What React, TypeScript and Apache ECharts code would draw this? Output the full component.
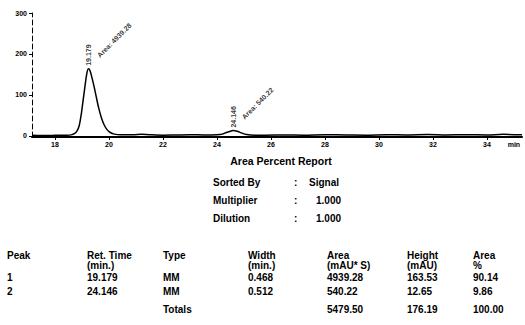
import React, { useEffect, useRef } from 'react';
import * as echarts from 'echarts';

// chromatogram trace: time (min) and signal (mAU)
const timeMin = [17.15, 17.5, 18.0, 18.4, 18.6, 18.72, 18.82, 18.9, 18.98, 19.05, 19.12, 19.18, 19.24, 19.3, 19.37, 19.45, 19.53, 19.62, 19.72, 19.82, 19.93, 20.05, 20.2, 20.45, 20.9, 21.2, 21.5, 22.0, 22.5, 23.0, 23.5, 24.0, 24.2, 24.35, 24.5, 24.6, 24.75, 24.9, 25.1, 25.4, 25.8, 26.5, 27.2, 28.0, 28.8, 29.5, 30.3, 31.0, 31.8, 32.5, 33.2, 34.0, 34.6, 35.3];
const signalMAU = [1.2, 0.6, 1.0, 1.5, 2.2, 5, 12, 25, 55, 90, 125, 152, 163.5, 159, 142, 120, 95, 68, 44, 27, 15, 8, 4, 2.5, 2.5, 3.5, 2.5, 1.5, 2, 2.5, 2, 2.5, 4, 8, 11, 12.6, 11, 7, 3, 1.5, 1.5, 2, 1.5, 2.5, 2, 1.5, 2.5, 2, 3, 2, 2.5, 2, 3.5, 2.5];

const xTicks = [18, 20, 22, 24, 26, 28, 30, 32, 34];
const yTicks = [0, 100, 200, 300];

// peak annotations (apex positions as seen in the picture)
const peakApexTime = [19.24, 24.6];
const peakApexMAU = [163.53, 12.65];
const peakRetLabels = ['19.179', '24.146'];
const peakAreaLabels = ['Area: 4939.28', 'Area: 540.22'];

// report table
const peakNo = ['1', '2'];
const retTime = ['19.179', '24.146'];
const peakType = ['MM', 'MM'];
const widthMin = ['0.468', '0.512'];
const areaVals = ['4939.28', '540.22'];
const heightVals = ['163.53', '12.65'];
const areaPct = ['90.14', '9.86'];
const totals = { area: '5479.50', height: '176.19', pct: '100.00' };

const FONT = '"Liberation Sans", Arial, sans-serif';

export default function App() {
  const ref = useRef<HTMLDivElement>(null);
  useEffect(() => {
    const chart = echarts.init(ref.current!, null, { renderer: 'svg' });
    const txt = (text: string, x: number, y: number, size = 10, align = 'left') => ({
      type: 'text',
      x,
      y,
      silent: true,
      style: {
        text,
        fill: '#000',
        fontSize: size,
        fontWeight: 'bold',
        fontFamily: FONT,
        align,
        verticalAlign: 'middle',
      },
    });
    const cols = [7, 87, 163, 248, 327, 407, 473];
    const graphic: any[] = [
      txt('Area Percent Report', 281, 161, 10.5, 'center'),
      txt('Sorted By', 213, 182),
      txt(':', 294, 182),
      txt('Signal', 309, 182),
      txt('Multiplier', 213, 200),
      txt(':', 294, 200),
      txt('1.000', 316, 200),
      txt('Dilution', 213, 218),
      txt(':', 294, 218),
      txt('1.000', 316, 218),
      txt('Peak', cols[0], 255),
      txt('Ret. Time', cols[1], 255),
      txt('(min.)', cols[1], 265),
      txt('Type', cols[2], 255),
      txt('Width', cols[3], 255),
      txt('(min.)', cols[3], 265),
      txt('Area', cols[4], 255),
      txt('(mAU* S)', cols[4], 265),
      txt('Height', cols[5], 255),
      txt('(mAU)', cols[5], 265),
      txt('Area', cols[6], 255),
      txt('%', cols[6], 265),
    ];
    const rowY = [277, 291];
    peakNo.forEach((p, i) => {
      const y = rowY[i];
      graphic.push(
        txt(p, cols[0], y),
        txt(retTime[i], cols[1], y),
        txt(peakType[i], cols[2], y),
        txt(widthMin[i], cols[3], y),
        txt(areaVals[i], cols[4], y),
        txt(heightVals[i], cols[5], y),
        txt(areaPct[i], cols[6], y)
      );
    });
    graphic.push(
      txt('Totals', cols[2], 309),
      txt(totals.area, cols[4], 309),
      txt(totals.height, cols[5], 309),
      txt(totals.pct, cols[6], 309)
    );

    const annData: any[] = [];
    peakApexTime.forEach((t, i) => {
      annData.push({
        value: [t, peakApexMAU[i]],
        label: {
          show: true,
          formatter: peakRetLabels[i],
          rotate: 90,
          position: 'top',
          distance: 3,
          align: 'left',
          verticalAlign: 'middle',
          fontSize: 7,
          fontWeight: 'bold',
          fontFamily: FONT,
          color: '#000',
        },
      });
      annData.push({
        value: [t, peakApexMAU[i]],
        label: {
          show: true,
          formatter: peakAreaLabels[i],
          rotate: 45,
          position: 'top',
          distance: 0,
          offset: [16, -2],
          align: 'left',
          verticalAlign: 'middle',
          fontSize: 7,
          fontWeight: 'bold',
          fontFamily: FONT,
          color: '#000',
        },
      });
    });

    chart.setOption({
      animation: false,
      backgroundColor: '#fff',
      grid: { left: 32, right: 3, top: 13, bottom: 188 },
      xAxis: {
        type: 'value',
        min: 17.15,
        max: 35.3,
        splitLine: { show: false },
        axisLine: { show: true, onZero: false, lineStyle: { color: '#000', width: 2 } },
        axisTick: { show: true, length: 3, customValues: xTicks, lineStyle: { color: '#000' } },
        axisLabel: {
          customValues: [...xTicks, 35],
          formatter: (v: number) => (v === 35 ? 'min' : String(v)),
          fontSize: 7,
          fontWeight: 'bold',
          fontFamily: FONT,
          color: '#000',
          margin: 4,
        },
      },
      yAxis: {
        type: 'value',
        min: -3,
        max: 300,
        splitLine: { show: false },
        axisLine: { show: true, lineStyle: { color: '#000', width: 1, type: [5, 3] } },
        axisTick: { show: true, length: 3, customValues: yTicks, lineStyle: { color: '#000' } },
        axisLabel: {
          customValues: yTicks,
          fontSize: 7,
          fontWeight: 'bold',
          fontFamily: FONT,
          color: '#000',
          margin: 5,
        },
      },
      series: [
        {
          type: 'line',
          data: timeMin.map((t, i) => [t, signalMAU[i]]),
          showSymbol: false,
          smooth: 0.3,
          lineStyle: { color: '#000', width: 1.5 },
          silent: true,
        },
        {
          type: 'scatter',
          symbolSize: 0,
          data: annData,
          silent: true,
        },
      ],
      graphic,
    });
    return () => chart.dispose();
  }, []);
  return (
    <div
      ref={ref}
      style={{ position: 'fixed', left: 0, top: 0, width: 525, height: 325, background: '#fff' }}
    />
  );
}
